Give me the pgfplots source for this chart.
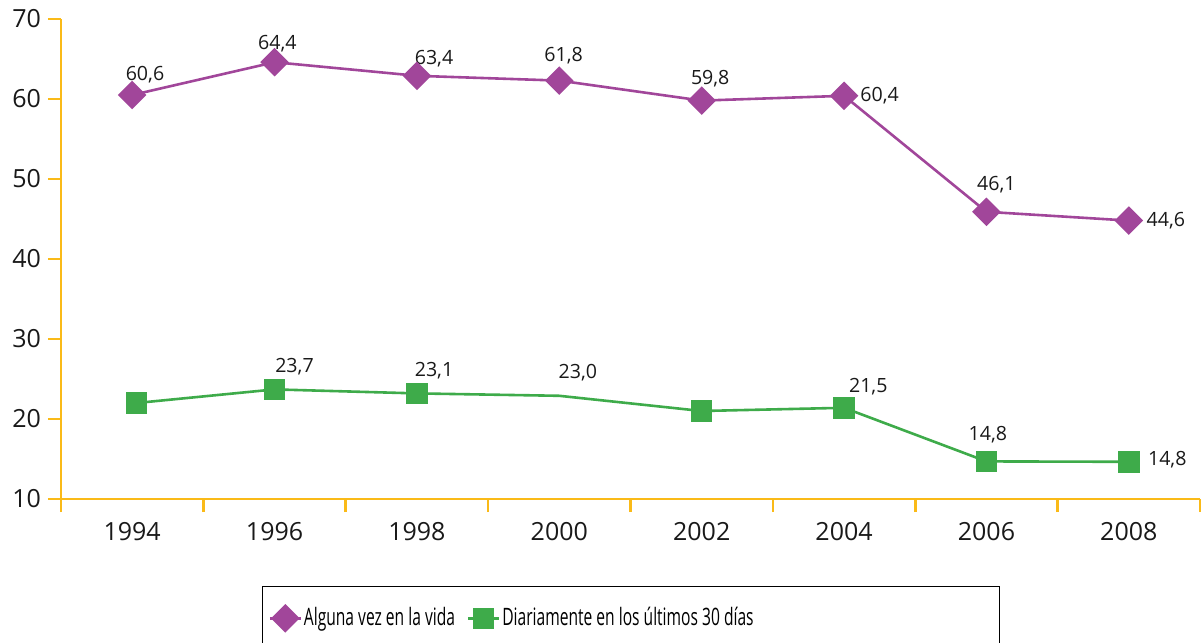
\documentclass[border=0pt]{standalone}
\usepackage{pgfplots}
\pgfplotsset{compat=1.18}
\usepackage{fontspec}
\setmainfont{Open Sans}
\newfontfamily\legfont[FakeStretch=0.65]{Open Sans}
\definecolor{axisy}{RGB}{250,186,24}
\definecolor{cpurple}{RGB}{161,70,154}
\definecolor{cgreen}{RGB}{62,171,74}
\begin{document}
\begin{tikzpicture}
\begin{axis}[
  name=ax, at={(0,0)}, anchor=south west,
  scale only axis, width=569.5pt, height=240pt,
  xmin=-0.5, xmax=7.5, ymin=10, ymax=70,
  axis x line=bottom, axis y line=left,
  axis line style={-, draw=axisy, line width=1.3pt},
  xtick={-0.5,0.5,...,7.5}, xticklabels={},
  extra x ticks={0,1,2,3,4,5,6,7},
  extra x tick labels={1994,1996,1998,2000,2002,2004,2006,2008},
  extra x tick style={major tick length=0pt, tick style={draw=none}, xticklabel style={yshift=-8pt}},
  ytick={10,20,30,40,50,60,70},
  tick align=outside, major tick length=6.5pt,
  tick style={draw=axisy, line width=1.3pt},
  ticklabel style={font=\fontsize{12.5}{14}\selectfont, text=black!90},
  /pgf/number format/assume math mode=true,
  clip=false,
  legend style={at={(0.1765,-0.18125)}, anchor=north west, draw=black, line width=0.6pt,
    font=\legfont\fontsize{12}{14}\selectfont, inner xsep=3pt, inner ysep=8.5pt,
    nodes={inner xsep=1pt},
    /tikz/every even column/.append style={column sep=5pt}},
  legend columns=2,
  legend cell align=left,
  legend image code/.code={\draw[mark indices={2}] plot coordinates {(0cm,0cm) (0.27cm,0cm) (0.54cm,0cm)};},
]
\addplot[cpurple, line width=1.3pt, mark=square*, mark size=4.4pt, mark options={rotate=45, solid}]
 coordinates {(0,60.5) (1,64.6) (2,62.9) (3,62.3) (4,59.8) (5,60.4) (6,45.9) (7,44.8)};
\addlegendentry{Alguna vez en la vida}
\addplot[cgreen, line width=1.3pt, mark=square*, mark size=4.7pt, mark indices={1,2,3,5,6,7,8}]
 coordinates {(0.03,22.0) (1,23.7) (2,23.2) (3,22.9) (4,21.0) (5,21.4) (6,14.7) (7,14.65)};
\addlegendentry{\makebox[244.5pt][l]{Diariamente en los últimos 30 días}}

\begin{scope}[every node/.style={font=\fontsize{9.8}{11}\selectfont, text=black!90}]
\node at (axis cs:0.09,63.0) {60,6};
\node at (axis cs:1.02,66.9) {64,4};
\node at (axis cs:2.12,65.0) {63,4};
\node at (axis cs:3.03,65.4) {61,8};
\node at (axis cs:4.06,62.6) {59,8};
\node at (axis cs:5.25,60.4) {60,4};
\node at (axis cs:6.07,49.25) {46,1};
\node at (axis cs:7.26,44.8) {44,6};
\node at (axis cs:1.14,26.5) {23,7};
\node at (axis cs:2.12,26.0) {23,1};
\node at (axis cs:3.13,25.8) {23,0};
\node at (axis cs:5.17,24.0) {21,5};
\node at (axis cs:6.01,18.0) {14,8};
\node at (axis cs:7.27,14.9) {14,8};
\end{scope}
\end{axis}
\pgfresetboundingbox
\useasboundingbox (-30.5pt,-71.5pt) rectangle (571pt,249.5pt);
\end{tikzpicture}
\end{document}
